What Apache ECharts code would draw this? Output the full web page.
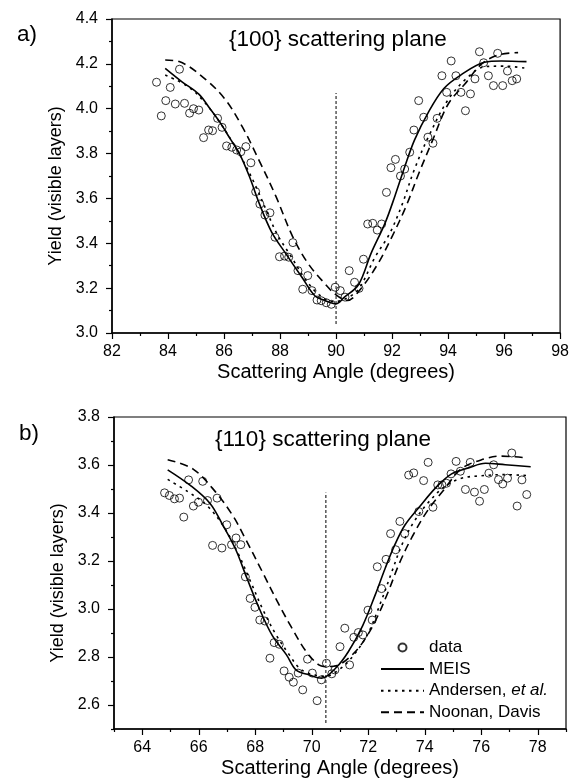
<!DOCTYPE html>
<html>
<head>
<meta charset="utf-8">
<script src="https://cdn.jsdelivr.net/npm/echarts@6/dist/echarts.min.js"></script>
<style>
html,body{margin:0;padding:0;background:#fff;}
#chart{width:572px;height:779px;}
</style>
</head>
<body>
<div id="chart"></div>
<script>
// ---------- Panel a: {100} scattering plane ----------
const dataAX = [83.59,83.76,83.92,84.08,84.26,84.41,84.59,84.77,84.91,85.10,85.27,85.45,85.59,85.77,85.93,86.09,86.28,86.45,86.60,86.78,86.96,87.13,87.28,87.46,87.64,87.82,87.98,88.16,88.31,88.46,88.64,88.81,88.99,89.14,89.32,89.47,89.65,89.83,89.97,90.15,90.32,90.47,90.66,90.82,90.98,91.13,91.31,91.47,91.63,91.80,91.96,92.12,92.30,92.45,92.63,92.78,92.95,93.13,93.28,93.46,93.61,93.78,93.95,94.11,94.28,94.46,94.62,94.80,94.96,95.12,95.27,95.44,95.62,95.77,95.95,96.12,96.29,96.45];
const dataAY = [4.118,3.968,4.036,4.095,4.021,4.176,4.024,3.980,4.000,3.994,3.871,3.905,3.902,3.957,3.917,3.834,3.828,3.816,3.808,3.831,3.759,3.630,3.575,3.526,3.536,3.427,3.340,3.343,3.338,3.403,3.278,3.195,3.256,3.189,3.147,3.144,3.135,3.128,3.204,3.189,3.160,3.278,3.226,3.199,3.329,3.486,3.489,3.459,3.486,3.627,3.737,3.774,3.700,3.731,3.806,3.905,4.036,3.962,3.873,3.846,3.957,4.147,4.073,4.213,4.147,4.073,3.991,4.066,4.133,4.254,4.205,4.147,4.103,4.247,4.103,4.168,4.125,4.133];
const meisA = [[83.9,4.18],[84.5,4.12],[85.1,4.065],[85.5,4.0],[85.85,3.94],[86.2,3.87],[86.55,3.80],[86.9,3.70],[87.25,3.58],[87.7,3.45],[88.2,3.355],[88.8,3.245],[89.25,3.165],[89.6,3.145],[90.0,3.13],[90.3,3.16],[90.8,3.215],[91.25,3.355],[91.75,3.49],[92.1,3.61],[92.45,3.74],[92.8,3.86],[93.3,3.985],[93.85,4.09],[94.45,4.15],[95.3,4.207],[95.9,4.213],[96.8,4.21]];
const andersenA = [[83.9,4.15],[84.7,4.10],[85.3,4.03],[85.9,3.93],[86.4,3.83],[86.8,3.74],[87.15,3.65],[87.5,3.55],[87.9,3.44],[88.4,3.34],[88.9,3.24],[89.4,3.17],[89.9,3.14],[90.3,3.15],[90.8,3.195],[91.4,3.34],[91.9,3.44],[92.35,3.57],[92.8,3.73],[93.3,3.875],[94.0,4.04],[94.7,4.14],[95.3,4.187],[96.0,4.19],[96.8,4.18]];
const noonanA = [[83.9,4.217],[84.4,4.21],[85.35,4.13],[86.05,4.04],[86.65,3.92],[87.25,3.77],[87.85,3.61],[88.45,3.43],[89.0,3.31],[89.6,3.22],[90.0,3.17],[90.4,3.145],[90.9,3.20],[91.5,3.31],[92.0,3.43],[92.5,3.565],[92.95,3.71],[93.45,3.86],[94.0,4.02],[94.6,4.11],[95.2,4.20],[95.8,4.24],[96.5,4.25]];
const markerA = [[90,3.04],[90,4.07]];

// ---------- Panel b: {110} scattering plane ----------
const dataBX = [64.79,64.96,65.14,65.32,65.47,65.64,65.81,65.99,66.14,66.31,66.49,66.65,66.82,66.99,67.16,67.32,67.49,67.65,67.82,67.99,68.16,68.34,68.52,68.67,68.85,69.02,69.20,69.35,69.52,69.68,69.85,70.02,70.19,70.34,70.52,70.71,70.82,71.00,71.17,71.34,71.49,71.65,71.81,71.99,72.14,72.32,72.47,72.63,72.79,72.97,73.12,73.29,73.43,73.61,73.79,73.96,74.12,74.29,74.46,74.61,74.77,74.93,75.11,75.26,75.44,75.61,75.76,75.94,76.11,76.27,76.44,76.61,76.76,76.93,77.08,77.27,77.44,77.61];
const dataBY = [3.484,3.473,3.459,3.462,3.383,3.538,3.429,3.445,3.532,3.452,3.265,3.462,3.254,3.351,3.268,3.296,3.268,3.134,3.044,3.007,2.954,2.950,2.795,2.860,2.853,2.742,2.716,2.695,2.733,2.663,2.791,2.733,2.618,2.705,2.774,2.730,2.746,2.843,2.920,2.767,2.882,2.902,2.892,2.995,2.954,3.176,3.085,3.207,3.314,3.247,3.365,3.314,3.558,3.567,3.406,3.535,3.611,3.424,3.517,3.517,3.524,3.563,3.615,3.574,3.498,3.611,3.487,3.449,3.498,3.566,3.601,3.539,3.521,3.545,3.650,3.429,3.538,3.477];
const meisB = [[64.9,3.58],[65.7,3.515],[66.4,3.44],[66.85,3.35],[67.3,3.25],[67.7,3.13],[68.15,3.0],[68.6,2.89],[69.1,2.81],[69.45,2.745],[69.9,2.726],[70.35,2.712],[70.85,2.754],[71.3,2.823],[71.8,2.93],[72.25,3.06],[72.6,3.17],[72.95,3.27],[73.3,3.35],[73.8,3.424],[74.4,3.507],[74.95,3.563],[75.55,3.588],[76.15,3.607],[76.85,3.601],[77.75,3.593]];
const andersenB = [[64.9,3.54],[65.6,3.49],[66.3,3.43],[66.9,3.34],[67.4,3.23],[67.85,3.11],[68.3,2.99],[68.75,2.89],[69.2,2.81],[69.6,2.75],[70.1,2.725],[70.5,2.72],[71.0,2.75],[71.5,2.81],[72.0,2.90],[72.45,3.03],[72.85,3.16],[73.2,3.27],[73.6,3.36],[74.1,3.44],[74.7,3.51],[75.3,3.545],[76.0,3.555],[76.8,3.56],[77.7,3.555]];
const noonanB = [[64.9,3.622],[65.8,3.583],[66.6,3.487],[67.2,3.39],[67.65,3.293],[68.25,3.155],[68.85,3.016],[69.3,2.92],[69.8,2.823],[70.25,2.767],[70.5,2.76],[70.9,2.765],[71.35,2.80],[71.8,2.86],[72.25,2.95],[72.7,3.07],[73.1,3.19],[73.55,3.30],[74.1,3.41],[74.7,3.50],[75.3,3.585],[76.1,3.625],[76.7,3.637],[77.6,3.63]];
const markerB = [[70.5,2.525],[70.5,3.485]];

// tick labels for panel b
const xLabelsB = [64,66,68,70,72,74,76,78];
const xMinorB = [63,65,67,69,71,73,75,77,79];
const yLabelsB = [2.6,2.8,3.0,3.2,3.4,3.6,3.8];
const yMinorB = [2.5,2.7,2.9,3.1,3.3,3.5,3.7];

const names = ['data','MEIS','Andersen, et al.','Noonan, Davis'];
const titleA = '{100} scattering plane';
const titleB = '{110} scattering plane';
const xName = 'Scattering Angle (degrees)';
const yName = 'Yield (visible layers)';

const FONT = 'Liberation Sans, Arial, sans-serif';
const BLACK = '#000';

function zip(xs, ys){ return xs.map((x,i)=>[x, ys[i]]); }

const labelStyle = {color: BLACK, fontSize: 16, fontFamily: FONT};
const nameStyleX = {color: BLACK, fontSize: 20, fontFamily: FONT};
const nameStyleY = {color: BLACK, fontSize: 18, fontFamily: FONT, padding:[0,20,0,0]};
const axisLine = {show:true, lineStyle:{color:BLACK, width:1.5}};
const titleStyle = {fontSize:22.5, fontWeight:'normal', color:BLACK, fontFamily:FONT};

const chart = echarts.init(document.getElementById('chart'), null, {renderer:'canvas'});

const lineSeries = (name, data, xi, yi, type) => ({
  name, type:'line', data, xAxisIndex:xi, yAxisIndex:yi,
  symbol:'none', smooth:0.35, silent:true,
  itemStyle:{color:BLACK},
  lineStyle:{color:BLACK, width:1.6, type}
});
const scatterSeries = (data, xi, yi) => ({
  name:'data', type:'scatter', data, xAxisIndex:xi, yAxisIndex:yi,
  symbol:'circle', symbolSize:8,
  itemStyle:{color:'rgba(0,0,0,0)', borderColor:BLACK, borderWidth:1}
});
const markerSeries = (data, xi, yi) => ({
  type:'line', data, xAxisIndex:xi, yAxisIndex:yi, symbol:'none', silent:true,
  lineStyle:{color:BLACK, width:1, type:[3,2]}
});
const hiddenSymbol = {color:'rgba(0,0,0,0)', borderWidth:0, opacity:0};

const option = {
  animation:false,
  backgroundColor:'#fff',
  textStyle:{fontFamily:FONT, color:BLACK},
  title:[
    {text:'a)', left:12, top:18, textStyle:titleStyle},
    {text:titleA, left:224, top:23, textStyle:titleStyle},
    {text:'b)', left:14, top:417, textStyle:titleStyle},
    {text:titleB, left:210, top:423, textStyle:titleStyle}
  ],
  legend:{
    data:names.map((n,i)=> i===0 ? {name:n} : {name:n, itemStyle:hiddenSymbol}),
    orient:'vertical', left:380, top:639,
    itemWidth:43, itemHeight:8, itemGap:4.6,
    padding:0, selectedMode:false,
    textStyle:{fontSize:17, color:BLACK, fontFamily:FONT, rich:{i:{fontStyle:'italic', fontSize:17, color:BLACK, fontFamily:FONT}}},
    formatter:function(n){ return n==='Andersen, et al.' ? 'Andersen, {i|et al.}' : n; }
  },
  grid:[
    {left:112, top:19, width:451, height:314, show:true, borderColor:BLACK, borderWidth:1.2, backgroundColor:'transparent'},
    {left:114, top:417, width:452, height:314, show:true, borderColor:BLACK, borderWidth:1.2, backgroundColor:'transparent'}
  ],
  xAxis:[
    {type:'value', gridIndex:0, min:82, max:98, interval:2,
     name:xName, nameLocation:'middle', nameGap:29, nameTextStyle:nameStyleX,
     axisLine, splitLine:{show:false},
     axisTick:{show:true, length:6, lineStyle:{color:BLACK, width:1.2}},
     minorTick:{show:true, splitNumber:2, length:3, lineStyle:{color:BLACK, width:1.2}},
     axisLabel:{...labelStyle, margin:11}},
    {type:'value', gridIndex:1, min:63, max:79, interval:1,
     name:xName, nameLocation:'middle', nameGap:29, nameTextStyle:nameStyleX,
     axisLine, splitLine:{show:false},
     axisTick:{show:true, length:3, customValues:xMinorB, lineStyle:{color:BLACK, width:1.2}},
     axisLabel:{...labelStyle, margin:11, customValues:xLabelsB}},
    {type:'value', gridIndex:1, min:63, max:79, interval:1, position:'bottom',
     axisLine:{show:false}, splitLine:{show:false}, axisLabel:{show:false},
     axisTick:{show:true, length:6, customValues:xLabelsB, lineStyle:{color:BLACK, width:1.2}}}
  ],
  yAxis:[
    {type:'value', gridIndex:0, min:3.0, max:4.4, interval:0.2,
     name:yName, nameLocation:'middle', nameGap:46, nameTextStyle:nameStyleY,
     axisLine, splitLine:{show:false},
     axisTick:{show:true, length:6, lineStyle:{color:BLACK, width:1.2}},
     minorTick:{show:true, splitNumber:2, length:3, lineStyle:{color:BLACK, width:1.2}},
     axisLabel:{...labelStyle, margin:14, formatter:v=>v.toFixed(1)}},
    {type:'value', gridIndex:1, min:2.5, max:3.8, interval:0.1,
     name:yName, nameLocation:'middle', nameGap:46, nameTextStyle:nameStyleY,
     axisLine, splitLine:{show:false},
     axisTick:{show:true, length:3, customValues:yMinorB, lineStyle:{color:BLACK, width:1.2}},
     axisLabel:{...labelStyle, margin:14, customValues:yLabelsB, formatter:v=>v.toFixed(1)}},
    {type:'value', gridIndex:1, min:2.5, max:3.8, interval:0.1, position:'left',
     axisLine:{show:false}, splitLine:{show:false}, axisLabel:{show:false},
     axisTick:{show:true, length:6, customValues:yLabelsB, lineStyle:{color:BLACK, width:1.2}}}
  ],
  series:[
    scatterSeries(zip(dataAX,dataAY),0,0),
    lineSeries('MEIS', meisA, 0,0, 'solid'),
    lineSeries('Andersen, et al.', andersenA, 0,0, [2.5,4.5]),
    lineSeries('Noonan, Davis', noonanA, 0,0, [8,5]),
    markerSeries(markerA,0,0),
    scatterSeries(zip(dataBX,dataBY),1,1),
    lineSeries('MEIS', meisB, 1,1, 'solid'),
    lineSeries('Andersen, et al.', andersenB, 1,1, [2.5,4.5]),
    lineSeries('Noonan, Davis', noonanB, 1,1, [8,5]),
    markerSeries(markerB,1,1)
  ]
};
chart.setOption(option);
</script>
</body>
</html>
